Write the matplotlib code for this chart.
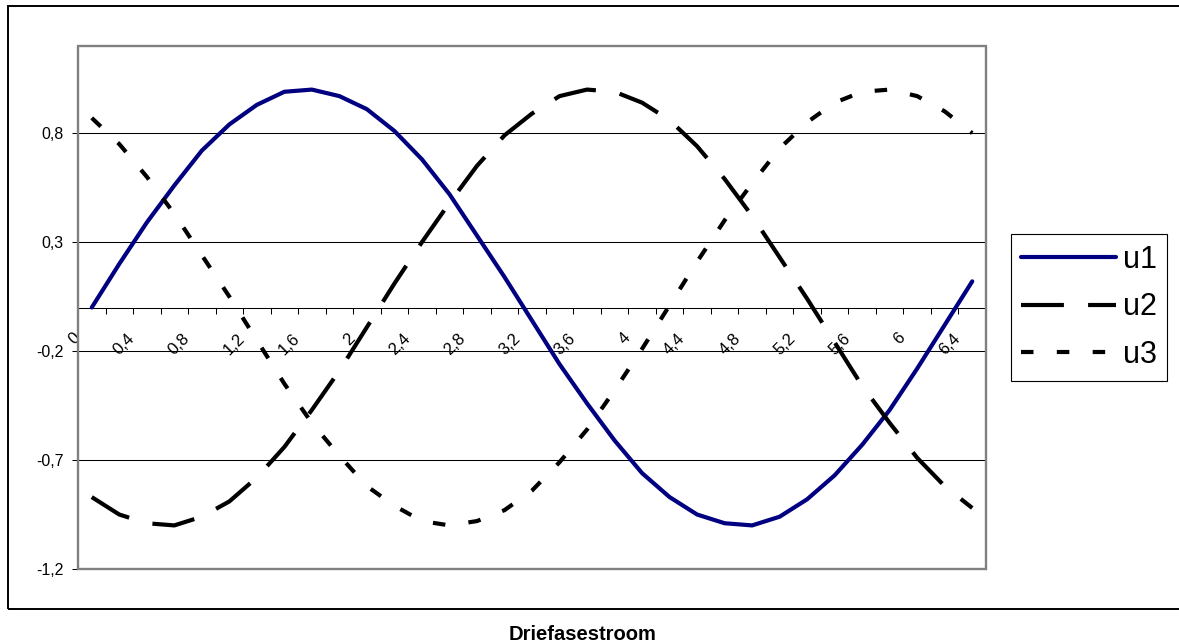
import numpy as np
import matplotlib
matplotlib.use("Agg")
import matplotlib.pyplot as plt
import matplotlib.transforms as mtransforms
from matplotlib.patches import Rectangle

plt.rcParams['font.family'] = ['Liberation Sans', 'DejaVu Sans']

# Three-phase voltages sampled every 0.2 rad
x_values = [0.0, 0.2, 0.4, 0.6, 0.8, 1.0, 1.2, 1.4, 1.6, 1.8, 2.0, 2.2, 2.4,
            2.6, 2.8, 3.0, 3.2, 3.4, 3.6, 3.8, 4.0, 4.2, 4.4, 4.6, 4.8, 5.0,
            5.2, 5.4, 5.6, 5.8, 6.0, 6.2, 6.4]
u1 = [0.00, 0.20, 0.39, 0.56, 0.72, 0.84, 0.93, 0.99, 1.00, 0.97, 0.91, 0.81,
      0.68, 0.52, 0.33, 0.14, -0.06, -0.26, -0.44, -0.61, -0.76, -0.87, -0.95,
      -0.99, -1.00, -0.96, -0.88, -0.77, -0.63, -0.47, -0.28, -0.08, 0.12]
u2 = [-0.87, -0.95, -0.99, -1.00, -0.96, -0.89, -0.78, -0.64, -0.47, -0.29,
      -0.09, 0.11, 0.30, 0.48, 0.65, 0.79, 0.89, 0.97, 1.00, 0.99, 0.94, 0.86,
      0.74, 0.59, 0.42, 0.23, 0.04, -0.16, -0.36, -0.53, -0.69, -0.82, -0.92]
u3 = [0.87, 0.75, 0.60, 0.43, 0.24, 0.05, -0.15, -0.35, -0.53, -0.68, -0.82,
      -0.91, -0.98, -1.00, -0.98, -0.93, -0.84, -0.71, -0.56, -0.38, -0.19,
      0.01, 0.21, 0.40, 0.57, 0.73, 0.85, 0.94, 0.99, 1.00, 0.97, 0.90, 0.80]
series_names = ['u1', 'u2', 'u3']
y_ticks = [-1.2, -0.7, -0.2, 0.3, 0.8]
chart_title = 'Driefasestroom'


def nl_number(v, fmt):
    return format(v, fmt).replace('.', ',')


W, H = 1179, 644
fig = plt.figure(figsize=(W / 100, H / 100), dpi=100)
fig.patch.set_facecolor('white')

# chart border (open on the right side)
fig.add_artist(Rectangle((8 / W, (H - 609) / H), (1250 - 8) / W, (609 - 6) / H,
                         transform=fig.transFigure, fill=False,
                         edgecolor='black', linewidth=1.4))

ax = fig.add_axes([78 / W, (H - 569) / H, 908 / W, 523 / H])

pos = np.arange(len(x_values))
ax.plot(pos, u1, color='#000080', linewidth=3.0, solid_capstyle='round',
        solid_joinstyle='round', zorder=3, label=series_names[0])
ax.plot(pos, u2, color='black', linewidth=3.0, dashes=(10.3, 5.8),
        zorder=3, label=series_names[1])
ax.plot(pos, u3, color='black', linewidth=3.0, dashes=(3.0, 5.6),
        zorder=3, label=series_names[2])

ax.set_xlim(-0.5, len(x_values) - 0.5)
ax.set_ylim(-1.2, 1.2)

# value axis
ax.set_yticks(y_ticks)
ax.set_yticklabels([nl_number(v, '.1f') for v in y_ticks])
ax.yaxis.grid(True, color='black', linewidth=0.75)
ax.set_axisbelow(True)
ax.tick_params(axis='y', direction='out', length=4, width=0.75, color='black',
               pad=6.5, labelsize=11.5)

# category axis crossing at zero
for side in ['left', 'right', 'top']:
    ax.spines[side].set_visible(False)
ax.spines['bottom'].set_position(('data', 0))
ax.spines['bottom'].set_color('black')
ax.spines['bottom'].set_linewidth(0.75)

ax.set_xticks(pos[::2])
ax.set_xticklabels([nl_number(v, 'g') for v in x_values[::2]])
ax.set_xticks(np.arange(-0.5, len(x_values), 1.0), minor=True)
ax.tick_params(axis='x', which='major', length=0, pad=16.5, labelsize=12)
ax.tick_params(axis='x', which='minor', direction='out', length=4,
               width=0.75, color='black')
shift = mtransforms.ScaledTranslation(-9 / 100, 0, fig.dpi_scale_trans)
for lbl in ax.get_xticklabels():
    lbl.set_rotation(45)
    lbl.set_ha('right')
    lbl.set_va('top')
    lbl.set_transform(lbl.get_transform() + shift)

# plot-area frame
ax.add_patch(Rectangle((0, 0), 1, 1, transform=ax.transAxes, fill=False,
                       edgecolor='#808080', linewidth=1.7, zorder=2.6,
                       clip_on=False))

leg = ax.legend(loc='upper left', bbox_to_anchor=(1010.7 / W, (H - 234.3) / H),
                bbox_transform=fig.transFigure, fontsize=22, handlelength=3.1,
                handletextpad=0.22, labelspacing=0.58, borderpad=0.34,
                borderaxespad=0, frameon=True, fancybox=False,
                edgecolor='black', framealpha=1)
leg.get_frame().set_linewidth(0.8)

fig.text(583 / W, (H - 635) / H, chart_title, ha='center', va='center',
         fontsize=14.5, fontweight='bold')

fig.savefig('out.png', dpi=100, facecolor='white')
